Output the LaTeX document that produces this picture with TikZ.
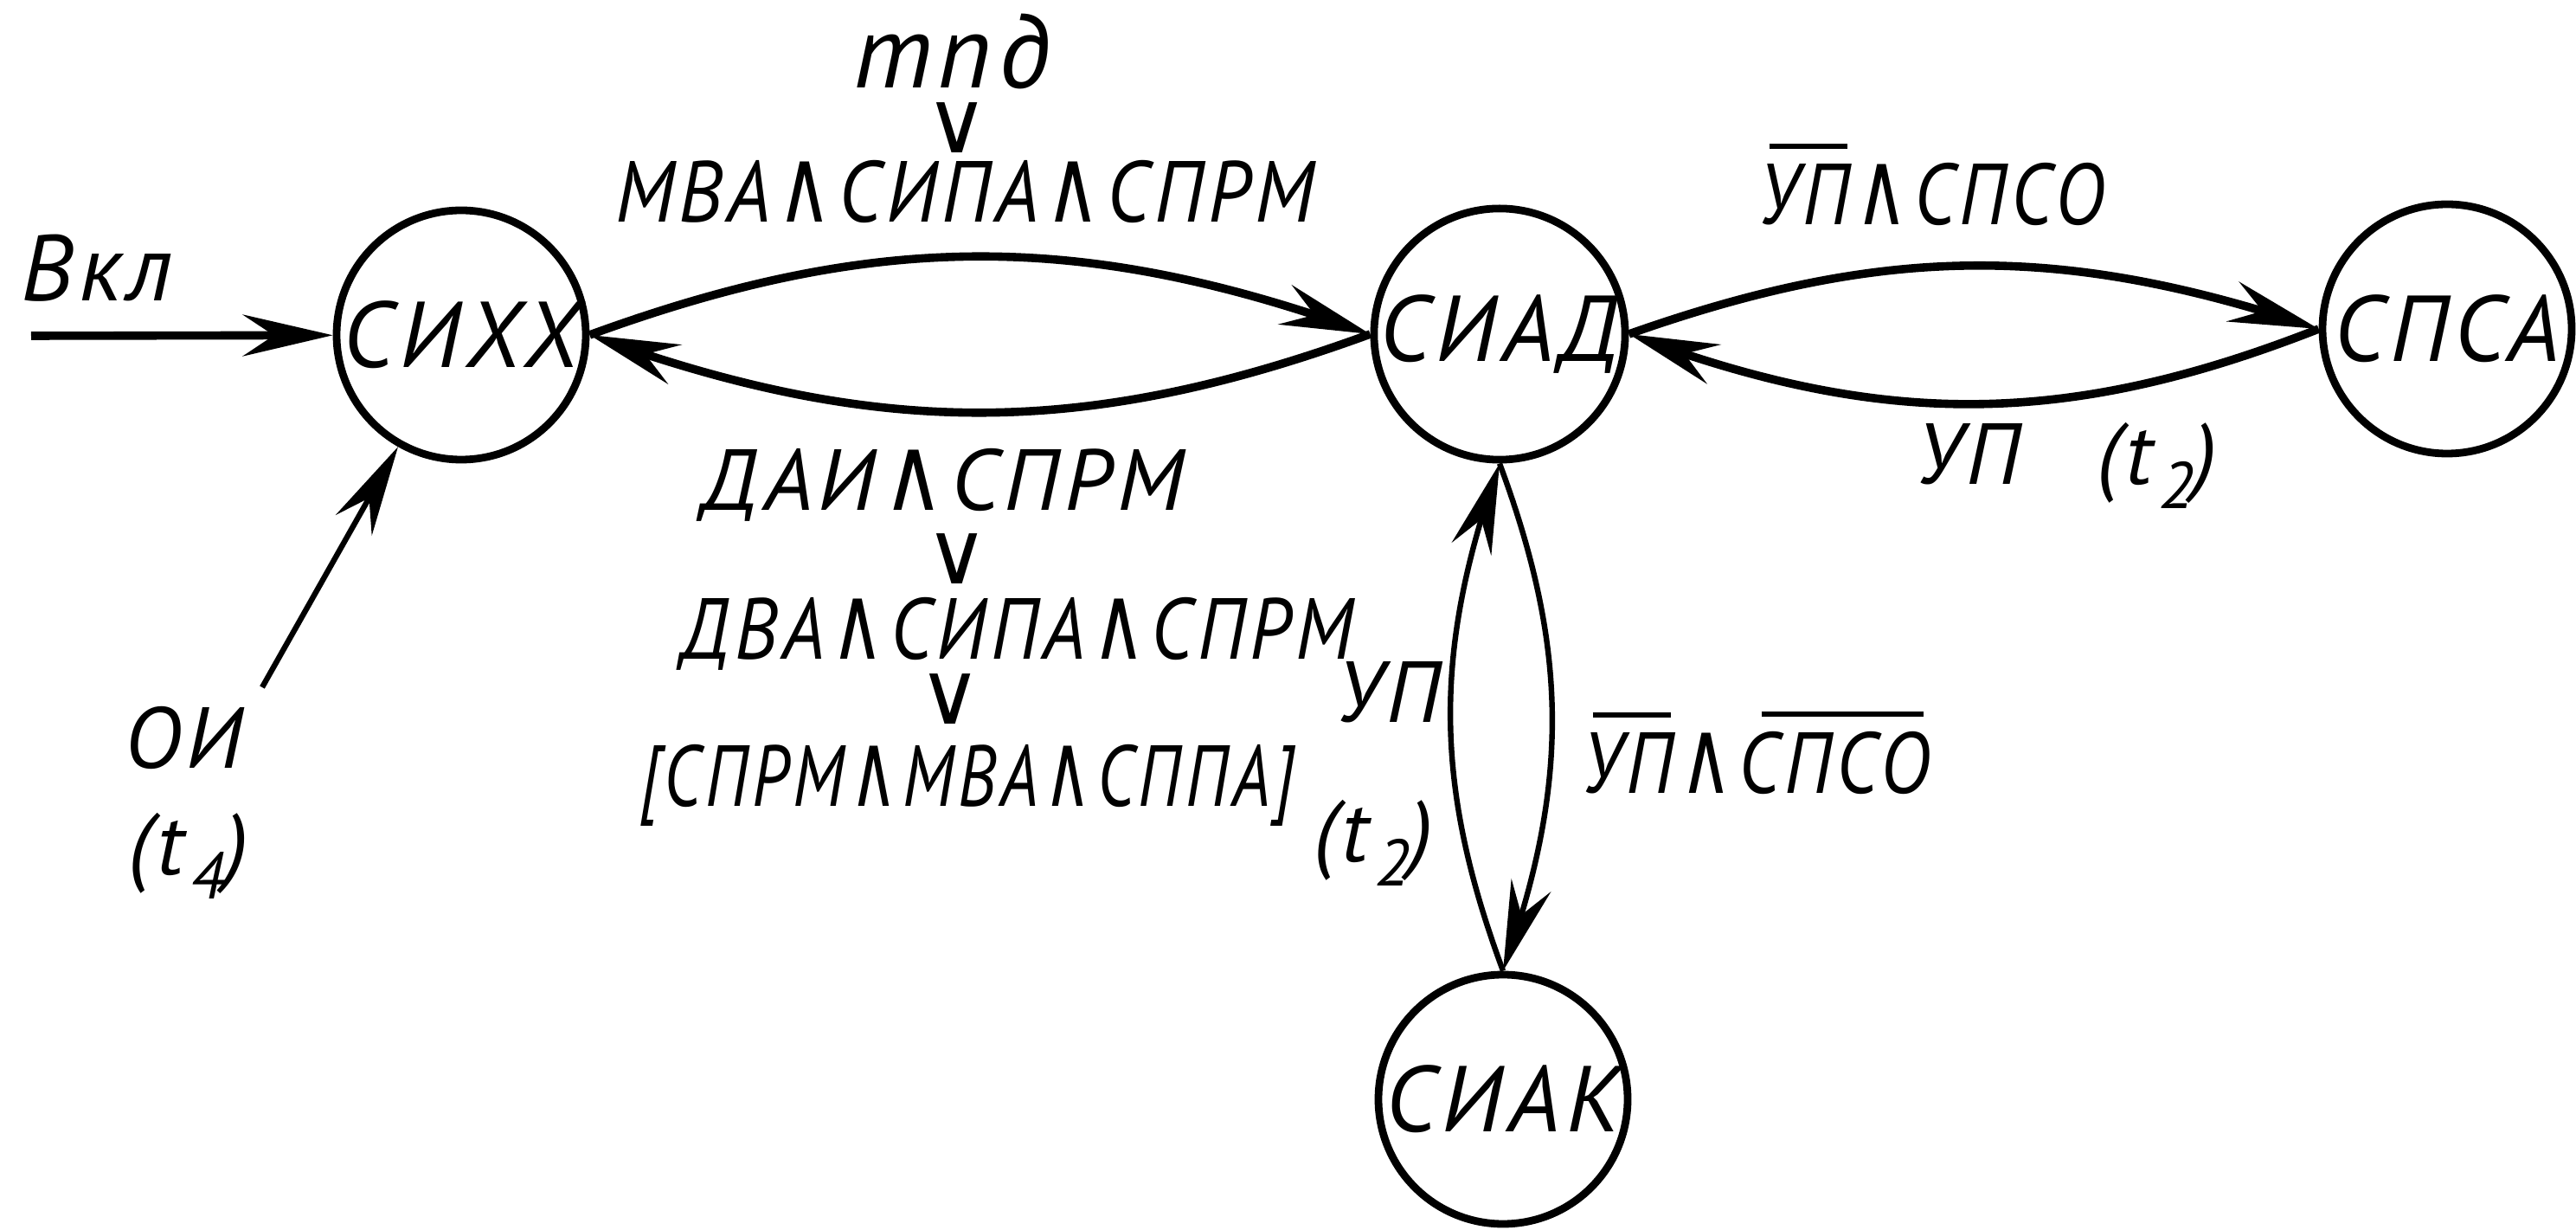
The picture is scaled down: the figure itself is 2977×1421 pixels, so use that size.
\documentclass[tikz,border=0pt]{standalone}
\usepackage{fontspec}
\setmainfont{PT Sans}[LetterSpace=6]
\newfontfamily\symf{DejaVu Sans}
\usetikzlibrary{arrows.meta,bending}
\newcommand\AND{\kern2pt\scalebox{0.95}[1.2]{\symf\slshape ∧}\kern2pt}
\newcommand\OR{{\symf ∨}}
\newcommand\ovl[1]{\setbox0\hbox{#1}\rlap{\kern0.12\wd0\raisebox{\dimexpr\ht0+4.5pt\relax}{\rule{0.85\wd0}{1.4pt}}}\box0}
\newcommand\tsub[1]{t\kern2pt\raisebox{-0.28em}{\fontsize{19}{20}\selectfont #1}}
\newcommand\fitw[2]{\resizebox{#1}{\height}{#2}}
\begin{document}
\begin{tikzpicture}[x=0.25pt,y=-0.25pt,
  state/.style={circle,draw,line width=2.2pt,minimum size=72pt,inner sep=0pt,font=\fontsize{27}{30}\selectfont\itshape},
  lbl/.style={inner sep=0pt,font=\fontsize{25}{28}\selectfont\itshape},
  trans/.style={line width=2.4pt,-{Stealth[length=26pt,width=12pt,inset=9pt]}},
  vtrans/.style={trans,line width=1.6pt}]
\useasboundingbox (0,0) rectangle (2977,1421);
% states
\node[state] (sixx) at (533,387) {СИХХ};
\node[state] (siad) at (1733,386) {СИАД};
\node[state] (spsa) at (2828,380) {СПСА};
\node[state] (siak) at (1737,1270) {СИАК};
% free ends
\coordinate (vin) at (36,388);
\coordinate (oi) at (303,794);
% connectors
\draw[trans] (vin) -- (sixx);
\draw[trans,line width=1.6pt] (oi) -- (sixx);
\draw[trans] (sixx.east) to[bend left=20] (siad.west);
\draw[trans] (siad.west) to[bend left=20] (sixx.east);
\draw[trans] (siad.east) to[bend left=19] (spsa.west);
\draw[trans] (spsa.west) to[bend left=21] (siad.east);
\draw[vtrans] (siad.south) to[bend left=20] (siak.north);
\draw[vtrans] (siak.north) to[bend left=20] (siad.south);
% labels
\node[lbl,anchor=base,font=\fontsize{27}{30}\selectfont\itshape] (vkl) at (112,348) {Вкл};
\node[lbl,anchor=base,font=\fontsize{30}{34}\selectfont\itshape] (tpd) at (1100,102) {тпд};
\node[lbl] (or1) at (1106,148) {\OR};
\node[lbl,anchor=base] (l1) at (1115,257) {\fitw{202pt}{МВА\AND СИПА\AND СПРМ}};
\node[lbl,anchor=base] (l2) at (1090,590) {\fitw{139pt}{ДАИ\AND СПРМ}};
\node[lbl] (or2) at (1106,646) {\OR};
\node[lbl,anchor=base] (l3) at (1176,762) {\fitw{194pt}{ДВА\AND СИПА\AND СПРМ}};
\node[lbl] (or3) at (1098,808) {\OR};
\node[lbl,anchor=base] (l4) at (1118,932) {\fitw{189pt}{[СПРМ\AND МВА\AND СППА]}};
\node[lbl,anchor=base] (l5) at (2232,260) {\fitw{100pt}{\ovl{УП}\AND СПСО}};
\node[lbl,anchor=base] (l6) at (2388,560) {УП\hspace{22pt}(\tsub{2})};
\node[lbl,anchor=base] (l7) at (1605,835) {УП};
\node[lbl,anchor=base] (l8) at (1587,995) {(\tsub{2})};
\node[lbl,anchor=base] (l9) at (2029,917) {\fitw{100.5pt}{\ovl{УП}\AND\ovl{СПСО}}};
\node[lbl,anchor=base] (l10) at (212,888) {ОИ};
\node[lbl,anchor=base] (l11) at (218,1010) {(\tsub{4})};
\end{tikzpicture}
\end{document}
